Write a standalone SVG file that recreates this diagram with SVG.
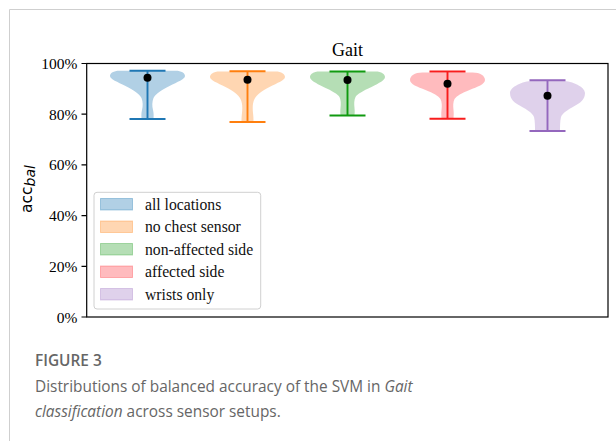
<svg xmlns="http://www.w3.org/2000/svg" width="616" height="441" viewBox="0 0 616 441">
<style>
.tick{font-family:"Liberation Serif","Times New Roman",serif;font-size:15.5px;fill:#000;text-anchor:end}
.leg{font-family:"Liberation Serif","Times New Roman",serif;font-size:15.7px;fill:#111}
.title{font-family:"Liberation Serif","Times New Roman",serif;font-size:18px;fill:#000;text-anchor:middle}
.cap{font-family:"Open Sans","Noto Sans",sans-serif;fill:#666;font-size:15.4px}
.bar{stroke-width:1.9;fill:none}
</style>
<rect width="616" height="441" fill="#fff"/>
<path d="M9.5,441 V9.5 H616" fill="none" stroke="#cfcfcf" stroke-width="1"/>

<g id="violins">
<g id="v-all" transform="translate(147.5,0)">
<path fill="#1f77b4" fill-opacity="0.35" d="M-28,70.7 L28,70.7 C34,70.7 37.5,73 37.5,76 C37.5,79 30,82 22,86 C14,90 8,94 6,98 C4.5,102 4.5,106 5.5,110 C6.5,114 6,117 6,119 L-6,119 C-6,117 -6.5,114 -5.5,110 C-4.5,106 -4.5,102 -6,98 C-8,94 -14,90 -22,86 C-30,82 -37.5,79 -37.5,76 C-37.5,73 -34,70.7 -28,70.7 Z"/>
<path class="bar" stroke="#1f77b4" d="M-18,70.7 H18 M0,70.7 V119 M-18,119 H18"/>
<circle cx="0" cy="77.7" r="4" fill="#000"/>
</g>
<g id="v-nochest" transform="translate(247.5,0)">
<path fill="#ff7f0e" fill-opacity="0.32" d="M-28,71.5 L28,71.5 C34,71.5 37.5,74 37.5,77 C37.5,80 30,83 22,87 C14,91 9,95 7,99 C5,103 5,108 5.5,113 C6,117 6,120 6,122 L-6,122 C-6,120 -6,117 -5.5,113 C-5,108 -5,103 -7,99 C-9,95 -14,91 -22,87 C-30,83 -37.5,80 -37.5,77 C-37.5,74 -34,71.5 -28,71.5 Z"/>
<path class="bar" stroke="#ff7f0e" d="M-18,71.3 H18 M0,71.3 V122 M-18,122 H18"/>
<circle cx="0" cy="79.7" r="4" fill="#000"/>
</g>
<g id="v-nonaffected" transform="translate(347.5,0)">
<path fill="#2ca02c" fill-opacity="0.35" d="M-28,71.5 L28,71.5 C34,71.5 37.5,74 37.5,77 C37.5,80 32,83 24,87 C15,91 10,94 8,97 C6.5,100 6.5,104 7,108 C7.5,112 7,114 7,115.5 L-7,115.5 C-7,114 -7.5,112 -7,108 C-6.5,104 -6.5,100 -8,97 C-10,94 -15,91 -24,87 C-32,83 -37.5,80 -37.5,77 C-37.5,74 -34,71.5 -28,71.5 Z"/>
<path class="bar" stroke="#109a10" d="M-18,71.5 H18 M0,71.5 V115.5 M-18,115.5 H18"/>
<circle cx="0" cy="80" r="4" fill="#000"/>
</g>
<g id="v-affected" transform="translate(447.5,0)">
<path fill="#ff2a36" fill-opacity="0.32" d="M-25,72.5 L25,72.5 C33,72.5 37.5,76 37.5,80 C37.5,84 30,87 22,90 C14,93 9,96 7,99 C5.5,102 5.5,106 6,110 C6.5,114 6,117 6,119 L-6,119 C-6,117 -6.5,114 -6,110 C-5.5,106 -5.5,102 -7,99 C-9,96 -14,93 -22,90 C-30,87 -37.5,84 -37.5,80 C-37.5,76 -33,72.5 -25,72.5 Z"/>
<path class="bar" stroke="#f81c1c" d="M-18,71.5 H18 M0,71.5 V118.8 M-18,118.8 H18"/>
<circle cx="0" cy="83.7" r="4" fill="#000"/>
</g>
<g id="v-wrists" transform="translate(547.5,0)">
<path fill="#9467bd" fill-opacity="0.3" d="M-15,81 L15,81 C25,81 37.5,87 37.5,93 C37.5,99 33,103 27,106 C20,110 15,113 13.5,117 C12.5,121 12.5,126 12.5,131 L-12.5,131 C-12.5,126 -12.5,121 -13.5,117 C-15,113 -20,110 -27,106 C-33,103 -37.5,99 -37.5,93 C-37.5,87 -25,81 -15,81 Z"/>
<path class="bar" stroke="#9467bd" d="M-18,80.3 H18 M0,80.3 V131 M-18,131 H18"/>
<circle cx="0" cy="95.7" r="4" fill="#000"/>
</g>
</g>

<g id="axes">
<rect x="86.7" y="63.5" width="521.3" height="253.5" fill="none" stroke="#000" stroke-width="1.2"/>
<path d="M81.5,63.5 H86.7 M81.5,114.2 H86.7 M81.5,164.9 H86.7 M81.5,215.6 H86.7 M81.5,266.3 H86.7 M81.5,317 H86.7" stroke="#000" stroke-width="1.2"/>
<text class="tick" x="77.5" y="69">100%</text>
<text class="tick" x="77.5" y="119.7">80%</text>
<text class="tick" x="77.5" y="170.4">60%</text>
<text class="tick" x="77.5" y="221.1">40%</text>
<text class="tick" x="77.5" y="271.8">20%</text>
<text class="tick" x="77.5" y="322.5">0%</text>
<text class="title" x="347.5" y="56">Gait</text>
<text transform="translate(32,213) rotate(-90)" font-family="DejaVu Sans,sans-serif" font-size="15.5" fill="#000">acc<tspan font-style="italic" font-size="14" dy="3">bal</tspan></text>
</g>

<g id="legend">
<rect x="94" y="192.3" width="166.7" height="116.7" rx="3" fill="#fff" fill-opacity="0.8" stroke="#d0d0d0" stroke-width="1"/>
<rect x="100.5" y="198.5" width="32" height="11.5" fill="#1f77b4" fill-opacity="0.35" stroke="#1f77b4" stroke-opacity="0.35"/>
<rect x="100.5" y="221" width="32" height="11.5" fill="#ff7f0e" fill-opacity="0.32" stroke="#ff7f0e" stroke-opacity="0.32"/>
<rect x="100.5" y="243.5" width="32" height="11.5" fill="#2ca02c" fill-opacity="0.35" stroke="#2ca02c" stroke-opacity="0.35"/>
<rect x="100.5" y="266" width="32" height="11.5" fill="#ff2a36" fill-opacity="0.32" stroke="#ff2a36" stroke-opacity="0.32"/>
<rect x="100.5" y="288.5" width="32" height="11.5" fill="#9467bd" fill-opacity="0.3" stroke="#9467bd" stroke-opacity="0.3"/>
<text class="leg" x="145" y="209.5">all locations</text>
<text class="leg" x="145" y="232">no chest sensor</text>
<text class="leg" x="145" y="254.5">non-affected side</text>
<text class="leg" x="145" y="277">affected side</text>
<text class="leg" x="145" y="299.5">wrists only</text>
</g>

<g id="caption">
<text class="cap" x="35" y="366" font-weight="600" fill="#555" font-size="16">FIGURE 3</text>
<text class="cap" x="35" y="391.7">Distributions of balanced accuracy of the SVM in <tspan font-style="italic">Gait</tspan></text>
<text class="cap" x="35" y="417"><tspan font-style="italic">classification</tspan> across sensor setups.</text>
</g>
</svg>
